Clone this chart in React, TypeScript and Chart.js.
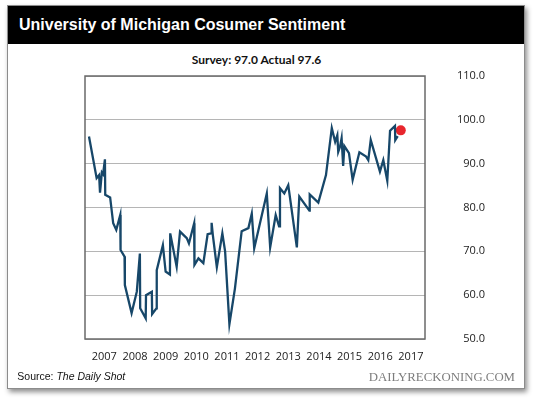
import React, { useEffect, useRef } from "react";
import { Chart, registerables } from "chart.js";

Chart.register(...registerables);

// ---- Data (decimal years) ----
const dates: number[] = [
  2007.0, 2007.25, 2007.33, 2007.36, 2007.42, 2007.46, 2007.52, 2007.53, 2007.69, 2007.79,
  2007.89, 2008.02, 2008.03, 2008.16, 2008.17, 2008.39, 2008.56, 2008.66, 2008.67, 2008.85,
  2008.86, 2009.05, 2009.06, 2009.2, 2009.21, 2009.41, 2009.5, 2009.64, 2009.65, 2009.86,
  2009.97, 2010.19, 2010.26, 2010.43, 2010.44, 2010.57, 2010.73, 2010.87, 2010.98, 2011.0,
  2011.04, 2011.17, 2011.35, 2011.44, 2011.58, 2011.76, 2011.98, 2012.2, 2012.31, 2012.39,
  2012.8, 2012.91, 2013.09, 2013.2, 2013.23, 2013.37, 2013.5, 2013.78, 2013.86, 2014.19,
  2014.2, 2014.48, 2014.73, 2014.92, 2015.03, 2015.1, 2015.13, 2015.19, 2015.24, 2015.29,
  2015.33, 2015.48, 2015.6, 2015.82, 2016.04, 2016.11, 2016.19, 2016.49, 2016.6, 2016.73,
  2016.82, 2016.98, 2016.99, 2017.07,
];
const sentiment: number[] = [
  96.2, 86.7, 87.4, 83.4, 88.0, 87.6, 91.0, 82.9, 82.3, 76.4,
  74.9, 78.3, 70.3, 68.8, 62.3, 55.9, 60.8, 69.5, 57.0, 54.7,
  60.0, 60.8, 55.7, 57.0, 65.7, 71.4, 65.4, 64.7, 74.1, 66.5,
  74.5, 73.0, 71.8, 76.4, 66.9, 68.4, 67.3, 73.9, 74.1, 76.5,
  73.7, 66.4, 74.1, 70.0, 53.4, 61.5, 74.6, 75.3, 78.6, 70.7,
  83.2, 70.9, 78.3, 75.7, 84.4, 83.2, 85.1, 70.9, 82.5, 79.3,
  83.0, 81.1, 87.4, 98.1, 95.0, 96.5, 92.7, 93.9, 95.8, 89.5,
  94.0, 92.4, 86.3, 92.6, 91.6, 90.8, 95.4, 88.2, 90.8, 86.1,
  97.5, 98.6, 95.4, 96.3,
];
const latestDate = 2017.17;
const surveyValue = 97.0;
const actualValue = 97.6;
const yearLabels: number[] = [2007, 2008, 2009, 2010, 2011, 2012, 2013, 2014, 2015, 2016, 2017];
const yMin = 50;
const yMax = 110;
const yStep = 10;

const TITLE = "University of Michigan Cosumer Sentiment";
const SOURCE_LABEL = "Source: ";
const SOURCE_NAME = "The Daily Shot";
const WATERMARK = "DAILYRECKONING.COM";

const boxPlugin = {
  id: "plotBox",
  beforeDatasetsDraw(chart: any) {
    const { ctx, chartArea } = chart;
    ctx.save();
    ctx.strokeStyle = "#6a6a6a";
    ctx.lineWidth = 1.5;
    ctx.strokeRect(chartArea.left, chartArea.top, chartArea.right - chartArea.left, chartArea.bottom - chartArea.top);
    ctx.restore();
  },
};

export default function App() {
  const canvasRef = useRef<HTMLCanvasElement | null>(null);

  useEffect(() => {
    if (!canvasRef.current) return;
    const tickFont = { family: "'Open Sans', 'Noto Sans', sans-serif", size: 11 };
    const chart = new Chart(canvasRef.current, {
      type: "line",
      data: {
        datasets: [
          {
            label: "Sentiment",
            data: dates.map((d, i) => ({ x: d, y: sentiment[i] })),
            borderColor: "#174769",
            borderWidth: 2.3,
            pointRadius: 0,
            tension: 0,
            fill: false,
          },
          {
            label: "Latest",
            data: [{ x: latestDate, y: actualValue }],
            showLine: false,
            pointRadius: 5,
            pointHoverRadius: 5,
            pointBackgroundColor: "#e8262d",
            pointBorderColor: "#e8262d",
            pointBorderWidth: 0,
          },
        ],
      },
      options: {
        animation: false,
        responsive: false,
        devicePixelRatio: 1,
        layout: { padding: { left: 85, top: 76, right: 55, bottom: 30 } },
        plugins: { legend: { display: false }, tooltip: { enabled: false }, title: { display: false } },
        scales: {
          x: {
            type: "linear",
            min: 2006.87,
            max: 2017.96,
            grid: { display: false },
            border: { display: false },
            afterBuildTicks: (axis: any) => {
              axis.ticks = yearLabels.map((y) => ({ value: y + 0.5 }));
            },
            afterFit: (axis: any) => {
              axis.height = 30;
            },
            ticks: {
              autoSkip: false,
              maxRotation: 0,
              padding: 3,
              color: "#222",
              font: tickFont,
              callback: (v: any) => String(Math.floor(Number(v))),
            },
          },
          y: {
            position: "right",
            min: yMin,
            max: yMax,
            grid: { color: "#b5b5b5", lineWidth: 1, drawTicks: false },
            border: { display: false },
            afterFit: (axis: any) => {
              axis.width = 60;
            },
            ticks: {
              stepSize: yStep,
              padding: 9,
              crossAlign: "far",
              color: "#222",
              font: tickFont,
              callback: (v: any) => Number(v).toFixed(1),
            },
          },
        },
      },
      plugins: [boxPlugin],
    });
    return () => chart.destroy();
  }, []);

  return (
    <div style={{ position: "fixed", left: 0, top: 0, width: 540, height: 399, background: "#fff", overflow: "hidden" }}>
      <div
        style={{
          position: "absolute",
          left: 7,
          top: 5,
          width: 516,
          height: 382,
          border: "1px solid #8c8c8c",
          background: "#fff",
          boxShadow: "2px 3px 5px rgba(0,0,0,0.45)",
        }}
      />
      <div style={{ position: "absolute", left: 8, top: 6, width: 516, height: 38, background: "#000" }} />
      <div
        style={{
          position: "absolute",
          left: 19,
          top: 16.5,
          lineHeight: "16px",
          fontSize: 16,
          fontWeight: 700,
          fontFamily: "'Liberation Sans', Arial, sans-serif",
          color: "#fff",
          whiteSpace: "nowrap",
        }}
      >
        {TITLE}
      </div>
      <div
        style={{
          position: "absolute",
          left: 0,
          width: 513,
          top: 54.4,
          lineHeight: "12px",
          fontSize: 12,
          fontWeight: 700,
          fontFamily: "Lato, 'Open Sans', sans-serif",
          color: "#111",
          textAlign: "center",
          whiteSpace: "nowrap",
        }}
      >
        {`Survey: ${surveyValue.toFixed(1)} Actual ${actualValue.toFixed(1)}`}
      </div>
      <canvas
        ref={canvasRef}
        width={540}
        height={399}
        style={{ position: "absolute", left: 0, top: 0, width: 540, height: 399, display: "block" }}
      />
      <div
        style={{
          position: "absolute",
          left: 17.3,
          top: 369.7,
          lineHeight: "12px",
          fontSize: 10.5,
          fontFamily: "'Liberation Sans', Arial, sans-serif",
          color: "#111",
          whiteSpace: "nowrap",
        }}
      >
        {SOURCE_LABEL}
        <i>{SOURCE_NAME}</i>
      </div>
      <div
        style={{
          position: "absolute",
          right: 25,
          top: 370.4,
          lineHeight: "14px",
          fontSize: 12.8,
          fontFamily: "'Liberation Serif', 'Times New Roman', serif",
          color: "#7d7d7d",
          whiteSpace: "nowrap",
        }}
      >
        {WATERMARK}
      </div>
    </div>
  );
}
